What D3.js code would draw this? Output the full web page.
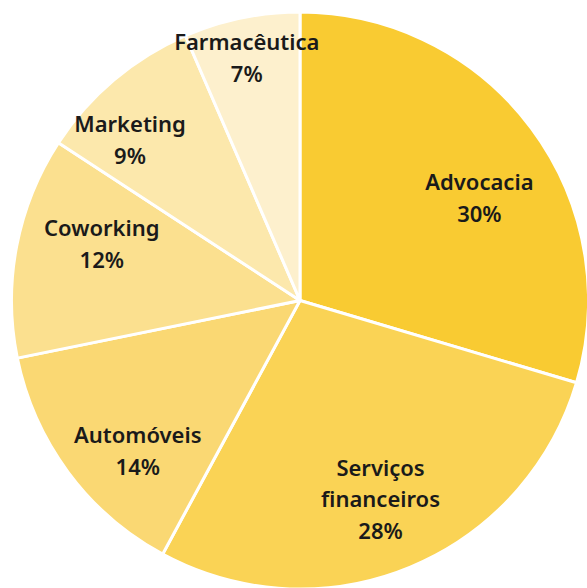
<!DOCTYPE html>
<html lang="pt-BR">
<head>
    <meta charset="UTF-8">
    <title>Setores</title>
    <script src="https://d3js.org/d3.v7.min.js"></script>
    <style>
        body {
            margin: 0;
            background-color: #ffffff;
        }
        svg {
            display: block;
        }
        .label {
            font-family: "Noto Sans", "Open Sans", sans-serif;
            font-weight: 600;
            font-size: 22px;
            fill: #1a1a1a;
        }
    </style>
</head>
<body>
    <div id="chart"></div>

    <script>
        // dados (fatias; rótulos arredondados)
        const categories = ["Advocacia", "Serviços financeiros", "Automóveis", "Coworking", "Marketing", "Farmacêutica"];
        const values = [29.6, 28.3, 13.9, 12.4, 9.3, 6.5];
        const colors = ["#f9cb32", "#fad355", "#fad873", "#fbe08f", "#fce8ac", "#fdf0cd"];
        // linhas do rótulo (quebra como no original)
        const labelLines = [["Advocacia"], ["Serviços", "financeiros"], ["Automóveis"], ["Coworking"], ["Marketing"], ["Farmacêutica"]];

        // ajuste de posição dos rótulos: [fração do raio, deslocamento angular em graus]
        const labelLayout = [[0.716, 7], [0.745, 0.5], [0.767, -6.3], [0.714, 5], [0.809, -6.6], [0.859, -0.7]];

        const width = 587;
        const height = 588;
        const cx = 300, cy = 300.5;
        const radius = 288.5;
        const lineHeight = 31.7;

        const svg = d3.select("#chart")
            .append("svg")
            .attr("width", width)
            .attr("height", height);

        const g = svg.append("g")
            .attr("transform", `translate(${cx},${cy})`);

        const pie = d3.pie().sort(null).value(d => d);
        const arcs = pie(values);

        const arc = d3.arc().innerRadius(0).outerRadius(radius);

        g.selectAll("path")
            .data(arcs)
            .enter()
            .append("path")
            .attr("d", arc)
            .attr("fill", (d, i) => colors[i])
            .attr("stroke", "#ffffff")
            .attr("stroke-width", 3)
            .attr("stroke-linejoin", "round");

        // rótulos
        const labels = g.selectAll("text")
            .data(arcs)
            .enter()
            .append("text")
            .attr("class", "label")
            .attr("text-anchor", "middle")
            .attr("transform", (d, i) => {
                const mid = (d.startAngle + d.endAngle) / 2 + labelLayout[i][1] * Math.PI / 180;
                const r = radius * labelLayout[i][0];
                return `translate(${r * Math.sin(mid)},${-r * Math.cos(mid)})`;
            });

        labels.each(function (d, i) {
            const lines = labelLines[i].concat([Math.round(values[i]) + "%"]);
            const t = d3.select(this);
            const y0 = -(lines.length - 1) / 2 * lineHeight;
            lines.forEach((line, j) => {
                t.append("tspan")
                    .attr("x", 0)
                    .attr("y", y0 + j * lineHeight)
                    .attr("dy", "0.35em")
                    .text(line);
            });
        });
    </script>
</body>
</html>
